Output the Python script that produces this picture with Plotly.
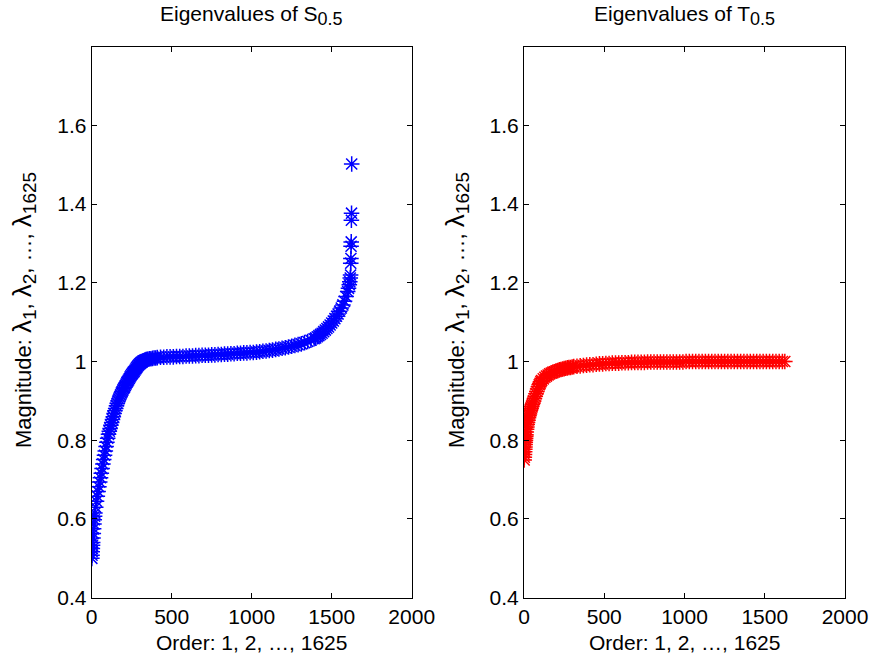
import plotly.graph_objects as go
from plotly.subplots import make_subplots

# eigenvalues of S_0.5 (order index, magnitude)
order_s = [1, 2, 3, 4, 5, 6, 8, 10, 12, 14, 16, 18,
           20, 25, 30, 35, 40, 45, 50, 55, 60, 65, 70, 75, 80, 85, 90, 95, 100,
           105, 110, 115, 120, 125, 130, 135, 140, 145, 150, 155, 160, 165, 170,
           175, 180, 185, 190, 195, 200, 205, 210, 215, 220, 225, 230, 235, 240,
           245, 250, 255, 260, 265, 270, 275, 280, 285, 290, 295, 300, 305, 310,
           315, 320, 325, 330, 335, 340, 345, 350, 360, 370, 380, 390, 400,
           410, 430, 450, 470, 490, 510, 530, 550, 570, 590, 610, 630, 650, 670,
           690, 710, 730, 750, 770, 790, 810, 830, 850, 870, 890, 910, 930, 950,
           970, 990, 1010, 1030, 1050, 1070, 1090, 1110, 1130, 1150, 1170, 1190,
           1210, 1230, 1250, 1270, 1290, 1310, 1330, 1350, 1370, 1390,
           1400, 1410, 1420, 1430, 1440, 1450, 1460, 1470, 1480, 1490, 1500,
           1510, 1520, 1530, 1540, 1550, 1560, 1570, 1580, 1590, 1600,
           1605, 1610, 1613, 1616, 1618, 1619, 1620, 1621, 1622, 1623, 1624, 1625]
eig_s = [0.500, 0.508, 0.517, 0.525, 0.533, 0.540, 0.552, 0.563, 0.575, 0.587,
         0.598, 0.607,
         0.615, 0.630, 0.645, 0.658, 0.670, 0.682, 0.694, 0.705, 0.716, 0.728,
         0.740, 0.751, 0.762, 0.773, 0.784, 0.795, 0.805,
         0.815, 0.823, 0.830, 0.838, 0.845, 0.853, 0.860, 0.868, 0.875, 0.881,
         0.888, 0.894, 0.900, 0.905,
         0.910, 0.915, 0.920, 0.924, 0.928, 0.932, 0.935, 0.939, 0.943, 0.947,
         0.950, 0.953, 0.957, 0.961,
         0.964, 0.967, 0.970, 0.973, 0.975, 0.978, 0.981, 0.984, 0.987, 0.990,
         0.992, 0.994, 0.996, 0.998,
         0.999, 1.001, 1.002, 1.003, 1.004, 1.005, 1.005, 1.006, 1.007, 1.007,
         1.008, 1.009, 1.009,
         1.010, 1.011, 1.011, 1.012, 1.012, 1.012, 1.013, 1.013, 1.013, 1.014,
         1.014, 1.014, 1.015, 1.015, 1.016, 1.016, 1.016, 1.017, 1.017, 1.018,
         1.018, 1.019, 1.019, 1.020, 1.020, 1.021, 1.021, 1.022, 1.022, 1.023,
         1.023, 1.024, 1.025, 1.026, 1.027, 1.028, 1.029, 1.031, 1.032, 1.034,
         1.035, 1.037, 1.039, 1.041, 1.043, 1.045, 1.048, 1.051, 1.054, 1.058,
         1.060, 1.063, 1.066, 1.069, 1.072, 1.076, 1.080, 1.084, 1.088, 1.093,
         1.098, 1.103, 1.109, 1.115, 1.121, 1.128, 1.136, 1.144, 1.153, 1.165,
         1.178, 1.186, 1.195, 1.203, 1.212, 1.220, 1.250, 1.262, 1.293, 1.304,
         1.359, 1.377, 1.502]

# eigenvalues of T_0.5
order_t = [1, 2, 3, 4, 5, 6, 7, 8, 9, 10, 11, 12, 14, 16, 18, 20, 22, 25, 28, 31,
           34, 37, 40, 44, 48, 52, 56, 60, 65, 70, 75, 80, 85, 90, 95, 100, 105,
           110, 120, 130, 140, 150, 160, 170, 180, 190, 200, 210, 220, 230, 240,
           250, 260, 270, 280, 290, 300,
           310, 330, 350, 370, 390, 410, 430, 450, 470, 490, 510, 530, 550, 570,
           590, 610, 630, 650, 670, 690, 710, 730, 750, 770, 790, 810, 830, 850,
           870, 890, 910, 930, 950, 970, 990, 1010, 1030, 1050, 1070, 1090, 1110,
           1130, 1150, 1170, 1190, 1210, 1230, 1250, 1270, 1290, 1310, 1330,
           1350, 1370, 1390, 1410, 1430, 1450, 1470, 1490, 1510, 1530, 1550,
           1570, 1590, 1610, 1625]
eig_t = [0.750, 0.757, 0.764, 0.771, 0.777, 0.783, 0.789, 0.795, 0.800, 0.805,
         0.810, 0.814, 0.821, 0.828, 0.834, 0.840, 0.845, 0.851, 0.857, 0.862,
         0.867, 0.872, 0.876, 0.881, 0.886, 0.891, 0.895, 0.900, 0.906, 0.912,
         0.918, 0.924, 0.930, 0.936, 0.941, 0.945, 0.949,
         0.952, 0.956, 0.960, 0.963, 0.966, 0.969, 0.971, 0.973, 0.974, 0.976,
         0.977, 0.979, 0.980, 0.981, 0.982, 0.983, 0.984, 0.985, 0.985, 0.986,
         0.987, 0.988, 0.989, 0.990, 0.991, 0.992, 0.992, 0.993, 0.994, 0.994,
         0.995, 0.995, 0.996, 0.996, 0.996, 0.997, 0.997, 0.997, 0.998, 0.998,
         0.998, 0.998, 0.998, 0.999, 0.999, 0.999, 0.999, 0.999, 0.999, 0.999,
         0.999, 0.999, 0.999, 0.999, 0.999, 1.000, 1.000, 1.000, 1.000, 1.000,
         1.000, 1.000, 1.000, 1.000, 1.000, 1.000, 1.000, 1.000, 1.000, 1.000,
         1.000, 1.000, 1.000, 1.000, 1.000, 1.000, 1.000, 1.000, 1.000, 1.000,
         1.000, 1.000, 1.000, 1.000, 1.000, 1.000, 1.000]

x_ticks = [0, 500, 1000, 1500, 2000]
y_ticks = [0.4, 0.6, 0.8, 1.0, 1.2, 1.4, 1.6]
y_tick_text = ['0.4', '0.6', '0.8', '1', '1.2', '1.4', '1.6']

FONT = 'Liberation Sans'
W, H = 873, 660


def px_x(p):
    return p / W


def px_y(p):
    return 1 - p / H


fig = make_subplots(rows=1, cols=2)

fig.add_trace(go.Scatter(x=order_s, y=eig_s, mode='markers',
                         marker=dict(symbol='asterisk-open', size=13, color='#0000ff',
                                     line=dict(color='#0000ff', width=1.5))),
              row=1, col=1)
fig.add_trace(go.Scatter(x=order_t, y=eig_t, mode='markers',
                         marker=dict(symbol='asterisk-open', size=13, color='#ff0000',
                                     line=dict(color='#ff0000', width=1.5))),
              row=1, col=2)

# axis boxes placed in window pixels
left_dom = [px_x(91.7), px_x(411.7)]
right_dom = [px_x(524.0), px_x(845.0)]
y_dom = [px_y(597.7), px_y(46.7)]

ax_common = dict(showgrid=False, zeroline=False, showline=True, linecolor='black',
                 linewidth=1, mirror='allticks', ticks='inside', ticklen=5,
                 tickcolor='black', automargin=False,
                 tickfont=dict(family=FONT, size=21, color='black'))

fig.update_xaxes(ax_common, range=[0, 2000], tickvals=x_ticks)
fig.update_yaxes(ax_common, range=[0.4, 1.8], tickvals=y_ticks, ticktext=y_tick_text)
fig.update_layout(xaxis=dict(domain=left_dom), xaxis2=dict(domain=right_dom),
                  yaxis=dict(domain=y_dom), yaxis2=dict(domain=y_dom))

SUB = '<sub><span style="font-size:%dpx">%s</span></sub>'
LAM = '<span style="font-size:26px">λ</span>'
annots = []
for dom, name in [(left_dom, 'S'), (right_dom, 'T')]:
    cx = (dom[0] + dom[1]) / 2
    annots.append(dict(text='Eigenvalues of %s' % name + SUB % (18, '0.5'), x=cx, y=px_y(31),
                       xref='paper', yref='paper', xanchor='center', yanchor='bottom',
                       showarrow=False, font=dict(family=FONT, size=21, color='black')))
    annots.append(dict(text='Order: 1, 2, …, 1625', x=cx, y=px_y(642),
                       xref='paper', yref='paper', xanchor='center', yanchor='middle',
                       showarrow=False, font=dict(family=FONT, size=21, color='black')))
ylab = ('Magnitude: ' + LAM + SUB % (19, '1') + ', ' + LAM + SUB % (19, '2') +
        ', …, ' + LAM + SUB % (19, '1625'))
for lx in [23, 456]:
    annots.append(dict(text=ylab, x=px_x(lx), y=px_y(310), textangle=-90,
                       xref='paper', yref='paper', xanchor='center', yanchor='middle',
                       showarrow=False, font=dict(family=FONT, size=22, color='black')))

fig.update_layout(width=W, height=H, showlegend=False, annotations=annots,
                  margin=dict(l=0, r=0, t=0, b=0),
                  paper_bgcolor='white', plot_bgcolor='white')

# drop the default 8px page margin so the figure fills the window exactly
fig.write_html('out.html', config={'displayModeBar': False},
               post_script="document.body.style.margin = '0';")
